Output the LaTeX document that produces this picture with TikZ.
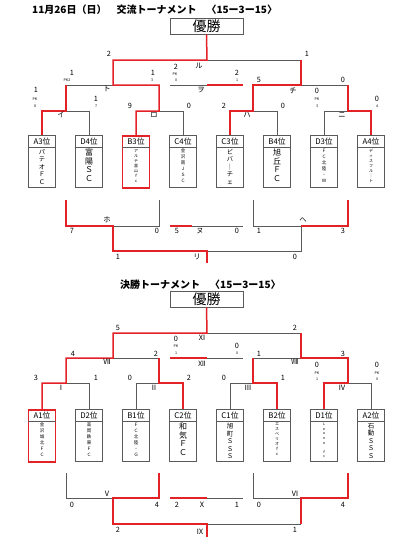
\documentclass[tikz,border=0pt]{standalone}
\usepackage{fontspec}
\setmainfont{Noto Sans CJK JP}
\definecolor{rd}{HTML}{E32228}
\definecolor{gy}{HTML}{5A5A5A}
\tikzset{
 rl/.style={draw=rd, line width=1.5pt, line join=miter},
 gl/.style={draw=gy, line width=0.8pt},
 sc/.style={font=\fontsize{7.3}{7.3}\selectfont, inner sep=0pt},
 pk/.style={font=\fontsize{3.6}{3.6}\selectfont, inner sep=0pt},
 lb/.style={font=\fontsize{7.3}{7.3}\selectfont, inner sep=0pt},
 teambox/.style={draw=gy, line width=0.9pt, minimum width=27pt, minimum height=52pt, anchor=north, inner sep=0pt},
 redbox/.style={draw=rd, line width=1.5pt},
 hdr/.style={font=\fontsize{7.8}{7.8}\selectfont, inner sep=0pt},
 winbox/.style={draw=gy, line width=0.9pt, minimum width=73pt, minimum height=16pt, inner sep=0pt, font=\fontsize{14}{14}\selectfont},
 ttl/.style={font=\bfseries\fontsize{10}{10}\selectfont, inner sep=0pt, anchor=west},
}
% name, cx, top, header, content font, content, extra style
\newcommand\myteam[7]{%
 \node[teambox,#7] (#1) at (#2,#3) {};
 \draw[gy, line width=0.7pt] ([yshift=-12pt]#1.north west) -- ([yshift=-12pt]#1.north east);
 \node[hdr] (#1h) at ([yshift=-6.3pt]#1.north) {#4};
 \node[font=#5, align=center, anchor=north, inner sep=0pt] (#1c) at ([yshift=-14pt]#1.north) {#6};
}
\newcommand\mysc[4]{\node[sc] (#1) at (#2,#3) {#4};}
\newcommand\mypk[4]{\node[pk] (#1) at (#2,#3) {#4};}
\newcommand\mylb[4]{\node[lb] (#1) at (#2,#3) {#4};}
\begin{document}
\begin{tikzpicture}[x=1pt,y=-1pt]
\useasboundingbox (0,0) rectangle (420,549);
% ================= TOP =================
\node[ttl] (t1) at (32,10) {11月26日（日）　交流トーナメント　〈15ー3ー15〉};
\node[winbox] (w1) at (206.5,26) {優勝};
\myteam{A3}{42}{135}{A3位}{\fontsize{6.3}{7.5}\selectfont}{パ\\テ\\オ\\Ｆ\\Ｃ}{}
\myteam{D4}{89}{135}{D4位}{\fontsize{8}{8.5}\selectfont}{富\\陽\\Ｓ\\Ｃ}{}
\myteam{B3}{136}{135}{B3位}{\fontsize{4}{5}\selectfont}{ア\\ル\\テ\\富\\山\\ｆ\\ｃ}{redbox}
\myteam{C4}{183}{135}{C4位}{\fontsize{4.5}{6}\selectfont}{金\\沢\\南\\Ｊ\\Ｓ\\Ｃ}{}
\myteam{C3}{230}{135}{C3位}{\fontsize{6.3}{7.5}\selectfont}{ビ\\バ\\｜\\チ\\ェ}{}
\myteam{B4}{277}{135}{B4位}{\fontsize{8}{8.5}\selectfont}{旭\\丘\\Ｆ\\Ｃ}{}
\myteam{D3}{324}{135}{D3位}{\fontsize{4.5}{6}\selectfont}{Ｆ\\Ｃ\\北\\陸\\・\\Ｗ}{}
\myteam{A4}{371}{135}{A4位}{\fontsize{4}{5}\selectfont}{デ\\ィ\\ス\\フ\\ル\\｜\\ト}{}
% gray lines
\draw[gl] (207,60) -- (301,60);
\draw[gl] (66,85) -- (113,85);
\draw[gl] (66,111) -- (89,111) -- (D4.north);
\draw[gl] (159,111) -- (183,111) -- (C4.north);
\draw[gl] (253,111) -- (277,111) -- (B4.north);
\draw[gl] (301,85) -- (348,85);
\draw[gl] (348,111) -- (324,111) -- (D3.north);
\draw[gl] (170,85) -- (207,85);
% red lines
\draw[rl] (w1.south) -- (207,60) -- (113,60) -- (113,85) -- (159,85) -- (159,111) -- (136,111) -- (B3.north);
\draw[rl] (301,60) -- (301,85) -- (253,85) -- (253,111) -- (230,111) -- (C3.north);
\draw[rl] (66,85) -- (66,111) -- (42,111) -- (A3.north);
\draw[rl] (348,85) -- (348,111) -- (371,111) -- (A4.north);
\draw[rl] (207,85) -- (243,85);
% lower part
\draw[gl] (113,226) -- (159,226) -- (159,200);
\draw[gl] (207,251) -- (301,251) -- (301,226) -- (253,226) -- (253,200);
\draw[gl] (192,226) -- (243,226);
\draw[rl] (66,200) -- (66,226) -- (113,226) -- (113,251) -- (207,251) -- (207,263);
\draw[rl] (301,226) -- (348,226) -- (348,200);
\draw[rl] (170,226) -- (192,226);
% labels top
\mysc{a1}{109}{54}{2} \mysc{a2}{307}{54}{1} \mylb{a3}{199}{66}{ル}
\mysc{b1}{72}{73}{1} \mypk{b2}{67}{80}{PK2} \mysc{b3}{153}{73}{1} \mypk{b4}{152}{80}{3} \mylb{b5}{107}{89}{ト}
\mysc{c1}{176}{67}{2} \mypk{c2}{175}{74}{PK} \mypk{c3}{176}{80}{0} \mysc{c4}{237}{73}{2} \mypk{c5}{237}{80}{1} \mylb{c6}{201}{90}{ヲ}
\mysc{d1}{259}{80}{5} \mysc{d2}{343}{80}{0} \mylb{d3}{293}{91}{チ}
\mysc{e1}{36}{90}{1} \mypk{e2}{35}{99}{PK} \mypk{e3}{35}{106}{8} \mysc{e4}{96}{99}{1} \mypk{e5}{96}{106}{7} \mylb{e6}{61}{115}{イ}
\mysc{f1}{130}{106}{9} \mysc{f2}{189}{106}{0} \mylb{f3}{154}{115}{ロ}
\mysc{g1}{224}{106}{2} \mysc{g2}{283}{106}{0} \mylb{g3}{247}{115}{ハ}
\mysc{h1}{317}{91}{0} \mypk{h2}{317}{99}{PK} \mypk{h3}{317}{106}{3} \mysc{h4}{377}{99}{0} \mypk{h5}{377}{106}{4} \mylb{h6}{342}{115}{ニ}
\mylb{i1}{107}{220}{ホ} \mysc{i2}{72}{231}{7} \mysc{i3}{157}{231}{0}
\mysc{j1}{177}{231}{5} \mylb{j2}{200}{231}{ヌ} \mysc{j3}{237}{231}{0}
\mylb{k1}{303}{220}{ヘ} \mysc{k2}{259}{231}{1} \mysc{k3}{343}{231}{3}
\mysc{l1}{118}{257}{1} \mylb{l2}{197}{257}{リ} \mysc{l3}{295}{257}{0}
% ================= BOTTOM =================
\node[ttl] (t2) at (120,285) {決勝トーナメント　〈15ー3ー15〉};
\node[winbox] (w2) at (206.5,299) {優勝};
\myteam{A1}{42}{409}{A1位}{\fontsize{4.5}{6}\selectfont}{金\\沢\\城\\北\\Ｆ\\Ｃ}{redbox}
\myteam{D2}{89}{409}{D2位}{\fontsize{4.5}{6}\selectfont}{高\\岡\\鉄\\東\\Ｆ\\Ｃ}{}
\myteam{B1}{136}{409}{B1位}{\fontsize{4.5}{6}\selectfont}{Ｆ\\Ｃ\\北\\陸\\・\\Ｇ}{}
\myteam{C2}{183}{409}{C2位}{\fontsize{8}{8.5}\selectfont}{和\\気\\Ｆ\\Ｃ}{}
\myteam{C1}{230}{409}{C1位}{\fontsize{6.5}{7.5}\selectfont}{旭\\町\\Ｓ\\Ｓ\\Ｓ}{}
\myteam{B2}{277}{409}{B2位}{\fontsize{4}{5}\selectfont}{エ\\ス\\ペ\\リ\\オ\\ｆ\\ｃ}{}
\myteam{D1}{324}{409}{D1位}{\fontsize{3.5}{4.6}\selectfont}{Ｌ\\ｅ\\ｏ\\ｎ\\ｅ\\ \\ｆ\\ｃ}{}
\myteam{A2}{371}{409}{A2位}{\fontsize{6.5}{7.5}\selectfont}{石\\動\\Ｓ\\Ｓ\\Ｓ}{}
% gray
\draw[gl] (207,333) -- (301,333);
\draw[gl] (113,358) -- (159,358);
\draw[gl] (159,383) -- (136,383) -- (B1.north);
\draw[gl] (66,383) -- (89,383) -- (D2.north);
\draw[gl] (301,358) -- (253,358);
\draw[gl] (253,383) -- (230,383) -- (C1.north);
\draw[gl] (348,383) -- (371,383) -- (A2.north);
\draw[gl] (207,358) -- (243,358);
\draw[gl] (66,473) -- (66,498) -- (113,498);
\draw[gl] (207,524) -- (301,524);
\draw[gl] (301,498) -- (253,498) -- (253,473);
\draw[gl] (207,498) -- (243,498);
% red
\draw[rl] (w2.south) -- (207,333) -- (113,333) -- (113,358) -- (66,358) -- (66,383) -- (42,383) -- (A1.north);
\draw[rl] (301,333) -- (301,358) -- (348,358) -- (348,383) -- (324,383) -- (D1.north);
\draw[rl] (159,358) -- (159,383) -- (183,383) -- (C2.north);
\draw[rl] (253,358) -- (253,383) -- (277,383) -- (B2.north);
\draw[rl] (170,358) -- (207,358);
\draw[rl] (159,473) -- (159,498) -- (113,498) -- (113,524) -- (207,524) -- (207,537);
\draw[rl] (348,473) -- (348,498) -- (301,498) -- (301,524);
\draw[rl] (170,498) -- (207,498);
% labels bottom
\mysc{m1}{118}{328}{5} \mysc{m2}{295}{328}{2} \mylb{m3}{202}{338}{Ⅺ}
\mysc{n1}{176}{339}{0} \mypk{n2}{176}{346}{PK} \mypk{n3}{176}{353}{1} \mysc{n4}{237}{346}{0} \mypk{n5}{237}{353}{0} \mylb{n6}{202}{364}{Ⅻ}
\mysc{o1}{73}{354}{4} \mysc{o2}{156}{354}{2} \mylb{o3}{107}{362}{Ⅶ}
\mysc{p1}{259}{354}{1} \mysc{p2}{343}{354}{3} \mylb{p3}{295}{362}{Ⅷ}
\mysc{q1}{36}{378}{3} \mysc{q2}{96}{378}{1} \mylb{q3}{61}{388}{Ⅰ}
\mysc{r1}{130}{378}{0} \mysc{r2}{189}{378}{2} \mylb{r3}{154}{388}{Ⅱ}
\mysc{s1}{224}{378}{0} \mysc{s2}{283}{378}{1} \mylb{s3}{248}{388}{Ⅲ}
\mysc{u1}{317}{365}{0} \mypk{u2}{317}{373}{PK} \mypk{u3}{317}{379}{1} \mysc{u4}{377}{365}{0} \mypk{u5}{377}{373}{PK} \mypk{u6}{377}{379}{0} \mylb{u7}{342}{388}{Ⅳ}
\mylb{v1}{107}{494}{Ⅴ} \mysc{v2}{72}{505}{0} \mysc{v3}{157}{505}{4}
\mysc{x1}{177}{505}{2} \mylb{x2}{202}{505}{Ⅹ} \mysc{x3}{237}{505}{1}
\mylb{y1}{295}{494}{Ⅵ} \mysc{y2}{259}{505}{0} \mysc{y3}{343}{505}{4}
\mysc{z1}{118}{530}{2} \mylb{z2}{200}{532}{Ⅸ} \mysc{z3}{295}{530}{1}
\end{tikzpicture}
\end{document}
